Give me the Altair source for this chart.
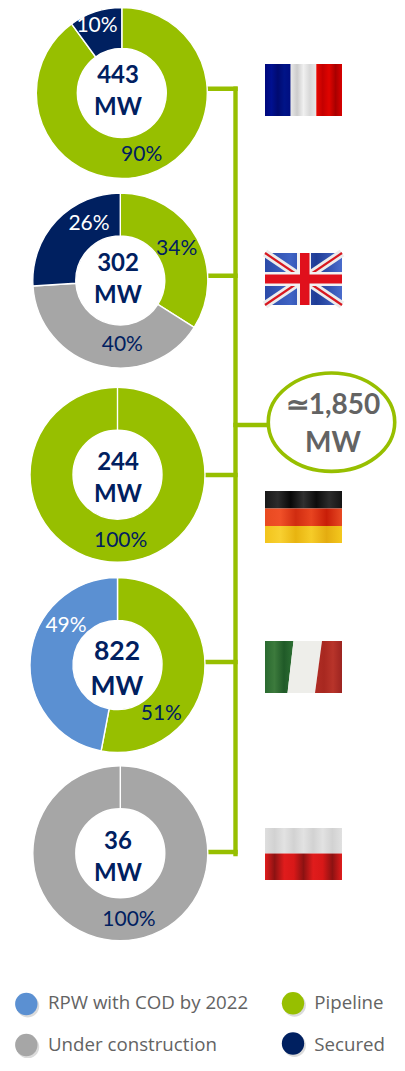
import altair as alt
import pandas as pd

COUNTRIES = ["France", "UK", "Germany", "Italy", "Poland"]
CAPACITY = ["443", "302", "244", "822", "36"]
CATEGORIES = ["Pipeline", "Under construction", "RPW with COD by 2022", "Secured"]
COLORS = ["#97BF00", "#A6A6A6", "#5B90D2", "#002060"]
# slice sizes as drawn in the picture (Italy's slices are drawn about 53/47, labelled 51/49)
PIPELINE = [90, 34, 100, 53, 0]
UNDER_CONSTRUCTION = [0, 40, 0, 0, 100]
RPW = [0, 0, 0, 47, 0]
SECURED = [10, 26, 0, 0, 0]

TOTAL = ["\u22431,850", "MW"]

GREEN = "#97BF00"
NAVY = "#002060"
GREY = "#636363"
W, H = 389, 1050

# layout, in picture pixels
CX = [121.8, 120.3, 117.5, 117.5, 120.3]
CY = [93, 280.5, 474.7, 665, 853.3]
RADII = [85.5, 87.5, 87.5, 87.5, 87.5]
NUM_Y = [76, 263.7, 462.7, 652, 841.7]
MW_Y = [107.7, 295.7, 495, 687, 873.7]
NUM_X = [118, 118, 118, 117, 118]
BIG = [24, 24, 24, 26.5, 24]

xs = alt.Scale(domain=[8, 397], range=[0, W], nice=False, zero=False)
ys = alt.Scale(domain=[8, 1058], range=[0, H], nice=False, zero=False)
X = lambda f="x": alt.X(f"{f}:Q", scale=xs, axis=None)
Y = lambda f="y": alt.Y(f"{f}:Q", scale=ys, axis=None)
X2 = lambda f="x2": alt.X2(f"{f}:Q")
Y2 = lambda f="y2": alt.Y2(f"{f}:Q")

layers = []

# connector
conn = pd.DataFrame(
    [
        dict(x=235.5, x2=235.5, y=88.7, y2=854),
        dict(x=208, x2=235.5, y=88.7, y2=88.7),
        dict(x=206, x2=235.5, y=275.7, y2=275.7),
        dict(x=203, x2=235.5, y=475, y2=475),
        dict(x=205, x2=235.5, y=662, y2=662),
        dict(x=206, x2=235.5, y=852, y2=852),
        dict(x=235.5, x2=268, y=425, y2=425),
    ]
)
layers.append(
    alt.Chart(conn)
    .mark_rule(color=GREEN, strokeWidth=4.4, strokeCap="square")
    .encode(x=X(), x2=X2(), y=Y(), y2=Y2())
)

# donuts
series = [PIPELINE, UNDER_CONSTRUCTION, RPW, SECURED]
for i, c in enumerate(COUNTRIES):
    rows = [
        dict(cat=CATEGORIES[k], share=series[k][i], ord=k, x=CX[i], y=CY[i])
        for k in range(4)
        if series[k][i] > 0
    ]
    layers.append(
        alt.Chart(pd.DataFrame(rows))
        .mark_arc(radius=RADII[i], radius2=44.5, stroke="white", strokeWidth=1.4)
        .encode(
            x=X(),
            y=Y(),
            theta=alt.Theta("share:Q", stack=True, scale=alt.Scale(domain=[0, 100])),
            order=alt.Order("ord:Q"),
            color=alt.Color(
                "cat:N", scale=alt.Scale(domain=CATEGORIES, range=COLORS), legend=None
            ),
        )
    )

# the white seam at 12 o'clock of the two single-slice rings
seam = pd.DataFrame(
    [
        dict(x=CX[2], x2=CX[2], y=CY[2] - 88, y2=CY[2] - 44),
        dict(x=CX[4], x2=CX[4], y=CY[4] - 88, y2=CY[4] - 44),
    ]
)
layers.append(
    alt.Chart(seam)
    .mark_rule(color="white", strokeWidth=1.4)
    .encode(x=X(), x2=X2(), y=Y(), y2=Y2())
)

# percent labels
PCT_TEXT = ["10%", "90%", "26%", "34%", "40%", "100%", "49%", "51%", "100%"]
PCT_X = [97, 141.7, 89, 176.7, 122.3, 120.7, 66, 161.3, 129]
PCT_Y = [25.5, 155, 223.8, 249, 345, 540.8, 626, 713.8, 919.8]
PCT_COL = ["white", NAVY, "white", NAVY, NAVY, NAVY, "white", NAVY, NAVY]
pct = pd.DataFrame(dict(t=PCT_TEXT, x=PCT_X, y=PCT_Y, c=PCT_COL))
layers.append(
    alt.Chart(pct)
    .mark_text(font="Lato", fontSize=21, align="center", baseline="middle")
    .encode(x=X(), y=Y(), text="t:N", color=alt.Color("c:N", scale=None))
)

# centre labels
for i in range(5):
    ctr = pd.DataFrame(dict(t=[CAPACITY[i], "MW"], x=[NUM_X[i]] * 2, y=[NUM_Y[i], MW_Y[i]]))
    layers.append(
        alt.Chart(ctr)
        .mark_text(
            font="Lato", fontWeight="bold", fontSize=BIG[i], color=NAVY,
            align="center", baseline="middle",
        )
        .encode(x=X(), y=Y(), text="t:N")
    )

# total ellipse
k = 0.5523
ax, ay = 1.285, 1.0
ell = (
    f"M{-ax},0C{-ax},{-k*ay} {-k*ax},{-ay} 0,{-ay}"
    f"C{k*ax},{-ay} {ax},{-k*ay} {ax},0"
    f"C{ax},{k*ay} {k*ax},{ay} 0,{ay}"
    f"C{-k*ax},{ay} {-ax},{k*ay} {-ax},0Z"
)
layers.append(
    alt.Chart(pd.DataFrame(dict(x=[331.5], y=[422.2])))
    .mark_point(shape=ell, size=(2 * 49.2) ** 2, filled=True, fill="white",
                stroke=GREEN, strokeWidth=3.6, opacity=1)
    .encode(x=X(), y=Y())
)
layers.append(
    alt.Chart(pd.DataFrame(dict(t=TOTAL, x=[333, 333], y=[406, 443.7])))
    .mark_text(font="Lato", fontWeight="bold", fontSize=28, color=GREY,
               align="center", baseline="middle")
    .encode(x=X(), y=Y(), text="t:N")
)

# flags
def grad(colors):
    n = len(colors) - 1
    return alt.LinearGradient(
        gradient="linear", x1=0, y1=0, x2=1, y2=0,
        stops=[alt.GradientStop(offset=j / n, color=c) for j, c in enumerate(colors)],
    )

def rect(x, x2, y, y2, fill):
    return (
        alt.Chart(pd.DataFrame(dict(x=[x], x2=[x2], y=[y], y2=[y2])))
        .mark_rect(color=fill)
        .encode(x=X(), x2=X2(), y=Y(), y2=Y2())
    )

# France
layers += [
    rect(265, 290.7, 64, 116, grad(["#00087C", "#001090", "#000A70", "#001488", "#000E80"])),
    rect(290.7, 316.3, 64, 116, grad(["#E8E8E8", "#CCCCCC", "#F0F0F0", "#D8D8D8", "#E8E8E8"])),
    rect(316.3, 342, 64, 116, grad(["#E80800", "#C40000", "#E00400", "#A80000", "#D80000"])),
]

# UK
layers.append(rect(265, 342, 253, 305, grad(["#2B4AA8", "#3F63C4", "#1E3C96", "#4A6CCC"])))
def rules(rows, col, sw):
    return (
        alt.Chart(pd.DataFrame(rows, columns=["x", "x2", "y", "y2"]))
        .mark_rule(color=col, strokeWidth=sw)
        .encode(x=X(), x2=X2(), y=Y(), y2=Y2())
    )
layers.append(rules([(265, 342, 253, 305), (265, 342, 305, 253)], "#ECECEC", 8))
layers.append(rules([(265, 342, 253, 305), (265, 342, 305, 253)], "#D81820", 2.2))
layers.append(rect(297, 311, 253, 305, "#F2F2F2"))
layers.append(rect(265, 342, 272, 286, "#F2F2F2"))
layers.append(rect(300, 309.5, 253, 305, "#E0101C"))
layers.append(rect(265, 342, 274.5, 283.5, "#E0101C"))

# Germany
layers += [
    rect(265, 342, 491, 508.5, grad(["#181818", "#2C2C2C", "#080808", "#303030", "#0C0C0C", "#2C2C2C", "#141414"])),
    rect(265, 342, 508.5, 526, grad(["#E84A20", "#F05028", "#D02C10", "#E84420", "#C81E08", "#E84A24"])),
    rect(265, 342, 526, 543, grad(["#F2C41C", "#F8D030", "#E8B410", "#F6CC28", "#E4AC10", "#F4C81E"])),
]

# Italy: the stripes lean, so they are drawn as horizontal-band areas
def band(x_top, x_bot, x2_top, x2_bot, fill):
    d = pd.DataFrame(dict(y=[641, 693], x=[x_top, x_bot], x2=[x2_top, x2_bot]))
    return (
        alt.Chart(d)
        .mark_area(color=fill, orient="horizontal")
        .encode(y=Y(), x=X(), x2=X2())
    )
layers += [
    band(265, 265, 293.5, 287.5, grad(["#2A6A30", "#3C7A3C", "#205A28", "#2E7034"])),
    band(293.5, 287.5, 322, 315, "#EEEEEA"),
    band(322, 315, 342, 342, grad(["#B02C24", "#A82820", "#B8342A", "#9C2420"])),
]

# Poland
layers += [
    rect(265, 342, 828, 853.5, grad(["#DEDEDE", "#D2D2D2", "#E2E2E2", "#D2D2D2", "#E2E2E2", "#D2D2D2", "#E2E2E2", "#D2D2D2", "#E0E0E0"])),
    rect(265, 342, 853.5, 880, grad(["#E01C1C", "#8C1212", "#E01C1C", "#D81818", "#8C1212", "#E01C1C", "#D81818", "#8C1212", "#E01C1C"])),
]

# legend
LEG_X = [26.3, 293, 26.3, 293]
LEG_Y = [1004, 1003.3, 1045, 1043.5]
LEG_LABEL = ["RPW with COD by 2022", "Pipeline", "Under construction", "Secured"]
LEG_COL = ["#5B90D2", "#97BF00", "#A6A6A6", "#002060"]
LEG_TX = [48, 314.3, 48, 314.3]
LEG_TY = [1003, 1003, 1044.5, 1044.5]
leg = pd.DataFrame(dict(t=LEG_LABEL, x=LEG_X, y=LEG_Y, c=LEG_COL, tx=LEG_TX, ty=LEG_TY))
shadow = leg.assign(x=leg.x + 1.5, y=leg.y + 2)
layers.append(
    alt.Chart(shadow).mark_point(shape="circle", filled=True, size=520, color="#999999", opacity=0.35)
    .encode(x=X(), y=Y())
)
layers.append(
    alt.Chart(leg).mark_point(shape="circle", filled=True, size=500, opacity=1)
    .encode(x=X(), y=Y(), color=alt.Color("c:N", scale=None))
)
layers.append(
    alt.Chart(leg).mark_text(font="Open Sans", fontSize=18.7, color=GREY, align="left", baseline="middle")
    .encode(x=X("tx"), y=Y("ty"), text="t:N")
)

chart = (
    alt.layer(*layers)
    .resolve_scale(color="independent", theta="shared")
    .properties(
        width=W, height=H, padding=0,
        autosize=alt.AutoSizeParams(type="none"),
        background="white",
    )
    .configure_view(stroke=None)
)
chart.save("out.html", embed_options={"renderer": "svg", "actions": False})
